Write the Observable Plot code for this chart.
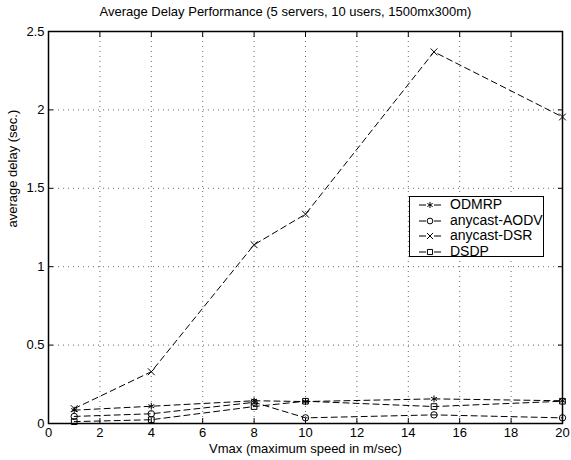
<!DOCTYPE html>
<html>
<head>
<meta charset="utf-8">
<script src="https://cdn.jsdelivr.net/npm/d3@7"></script>
<script src="https://cdn.jsdelivr.net/npm/@observablehq/plot@0.6"></script>
<style>
  html, body { margin: 0; padding: 0; background: #fff; }
  #wrap { position: relative; width: 571px; height: 460px; font-family: "Liberation Sans", Arial, Helvetica, sans-serif; }
  #title { position: absolute; left: 0; width: 571px; top: 4px; text-align: center; font-size: 13px; color: #000; }
  #legend { position: absolute; left: 409px; top: 196px; width: 133px; height: 59px; border: 1.5px solid #000; background: #fff; font-size: 14px; overflow: visible; }
  .row { position: absolute; left: 0; height: 15px; white-space: nowrap; }
  .row svg { position: absolute; left: 6px; top: 2px; }
  .row span { position: absolute; left: 40px; top: -1px; }
</style>
</head>
<body>
<div id="wrap">
  <div id="chart"></div>
  <div id="title">Average Delay Performance (5 servers, 10 users, 1500mx300m)</div>
  <div id="legend"></div>
</div>
<script>
const speeds = [1, 4, 8, 10, 15, 20];
const odmrp = [0.085, 0.11, 0.145, 0.14, 0.157, 0.145];
const anycastAODV = [0.045, 0.062, 0.135, 0.036, 0.055, 0.036];
const anycastDSR = [0.095, 0.33, 1.14, 1.335, 2.37, 1.955];
const dsdp = [0.012, 0.024, 0.108, 0.142, 0.108, 0.142];
const seriesNames = ["ODMRP", "anycast-AODV", "anycast-DSR", "DSDP"];
const seriesSymbols = ["asterisk", "circle", "times", "square"];
const xTicks = [0, 2, 4, 6, 8, 10, 12, 14, 16, 18, 20];
const yTicks = [0, 0.5, 1, 1.5, 2, 2.5];
const yTickLabels = ["0", "0.5", "1", "1.5", "2", "2.5"];

const seriesValues = [odmrp, anycastAODV, anycastDSR, dsdp];
const rows = [];
seriesNames.forEach((name, i) => {
  speeds.forEach((s, j) => rows.push({series: name, x: s, y: seriesValues[i][j], sym: seriesSymbols[i]}));
});

const gridX = xTicks.slice(1, -1);
const gridY = yTicks.slice(1, -1);

const chart = Plot.plot({
  width: 571,
  height: 460,
  marginLeft: 48,
  marginRight: 9,
  marginTop: 31,
  marginBottom: 37,
  style: {fontFamily: '"Liberation Sans", Arial, Helvetica, sans-serif', fontSize: "13px", color: "#000", background: "#fff"},
  x: {type: "linear", domain: [0, 20]},
  y: {type: "linear", domain: [0, 2.5]},
  symbol: {domain: seriesSymbols, range: seriesSymbols},
  marks: [
    Plot.ruleX(gridX, {x: (d) => d, stroke: "#444", strokeWidth: 0.8, strokeDasharray: "1,4"}),
    Plot.ruleY(gridY, {y: (d) => d, stroke: "#444", strokeWidth: 0.8, strokeDasharray: "1,4"}),
    Plot.axisX({ticks: xTicks, tickSize: -5, tickPadding: 9, label: null}),
    Plot.axisX({ticks: xTicks, anchor: "top", tickSize: -5, tickFormat: () => "", label: null}),
    Plot.axisY({ticks: yTicks, tickSize: -5, tickPadding: 9, tickFormat: (d) => yTickLabels[yTicks.indexOf(d)], label: null}),
    Plot.axisY({ticks: yTicks, anchor: "right", tickSize: -5, tickFormat: () => "", label: null}),
    Plot.line(rows, {x: "x", y: "y", z: "series", stroke: "#000", strokeWidth: 1, strokeDasharray: "6,4"}),
    Plot.dot(rows, {x: "x", y: "y", symbol: "sym", r: 3.2, stroke: "#000", strokeWidth: 1, fill: "none"}),
    Plot.frame({stroke: "#000", strokeWidth: 1.5}),
    Plot.text(["Vmax (maximum speed in m/sec)"], {frameAnchor: "bottom", dy: 29, fontSize: 13}),
    Plot.text(["average delay (sec.)"], {frameAnchor: "left", dx: -36, rotate: -90, fontSize: 13})
  ]
});
document.getElementById("chart").appendChild(chart);

// Legend built from the same series arrays
const legend = d3.select("#legend");
const symMap = {asterisk: d3.symbolAsterisk, circle: d3.symbolCircle, times: d3.symbolTimes, square: d3.symbolSquare};
seriesNames.forEach((name, i) => {
  const row = legend.append("div").attr("class", "row").style("top", (0 + i * 15.5) + "px");
  const svg = row.append("svg").attr("width", 28).attr("height", 12);
  svg.append("line").attr("x1", 3).attr("x2", 10).attr("y1", 6).attr("y2", 6)
    .attr("stroke", "#000").attr("stroke-width", 1);
  svg.append("line").attr("x1", 18).attr("x2", 25).attr("y1", 6).attr("y2", 6)
    .attr("stroke", "#000").attr("stroke-width", 1);
  svg.append("path").attr("transform", "translate(14,6)")
    .attr("d", d3.symbol(symMap[seriesSymbols[i]], 26)())
    .attr("fill", "none").attr("stroke", "#000").attr("stroke-width", 1);
  row.append("span").text(name);
});
</script>
</body>
</html>
